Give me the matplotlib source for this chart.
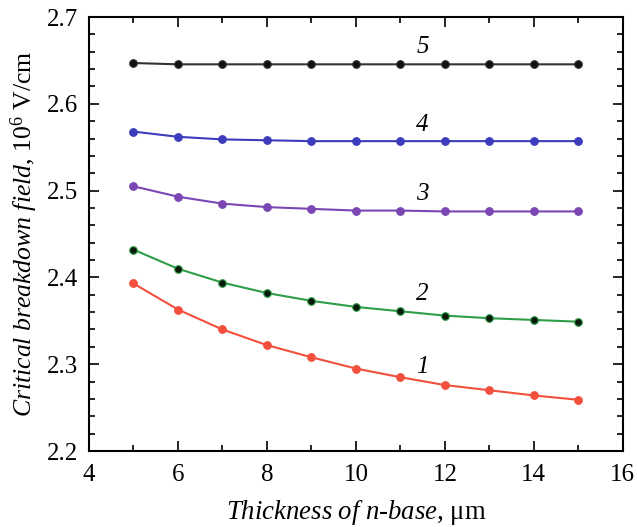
import matplotlib.pyplot as plt
from matplotlib.ticker import MultipleLocator

plt.rcParams['font.family'] = ['Liberation Serif', 'DejaVu Serif']
plt.rcParams['mathtext.fontset'] = 'custom'
plt.rcParams['mathtext.rm'] = 'Liberation Serif'
plt.rcParams['mathtext.it'] = 'Liberation Serif:italic'

thickness = [5, 6, 7, 8, 9, 10, 11, 12, 13, 14, 15]
field_1 = [2.393, 2.363, 2.340, 2.322, 2.308, 2.295, 2.285, 2.276, 2.270, 2.264, 2.259]
field_2 = [2.432, 2.410, 2.394, 2.382, 2.373, 2.366, 2.361, 2.356, 2.353, 2.351, 2.349]
field_3 = [2.505, 2.493, 2.485, 2.481, 2.479, 2.477, 2.477, 2.476, 2.476, 2.476, 2.476]
field_4 = [2.568, 2.562, 2.559, 2.558, 2.557, 2.557, 2.557, 2.557, 2.557, 2.557, 2.557]
field_5 = [2.647, 2.6455, 2.6455, 2.6455, 2.6455, 2.6455, 2.6455, 2.6455, 2.6455, 2.6455, 2.6455]
curve_labels = ["1", "2", "3", "4", "5"]
label_y = [2.297, 2.381, 2.496, 2.576, 2.665]
label_x = 11.5

series = [field_1, field_2, field_3, field_4, field_5]
line_colors = ["#f2503c", "#2e9e48", "#7a46b4", "#3c3cbc", "#333333"]
marker_colors = ["#f2503c", "#0a1a0a", "#7a46b4", "#3c3cbc", "#111111"]

fig = plt.figure(figsize=(6.37, 5.27), dpi=100)
ax = fig.add_axes([0.1397, 0.1442, 0.838, 0.8235])

for vals, lc, mc in zip(series, line_colors, marker_colors):
    ax.plot(thickness, vals, color=lc, lw=1.5, marker='o', ms=5.5,
            markerfacecolor=mc, markeredgecolor=lc, markeredgewidth=0.8)

for lab, ly in zip(curve_labels, label_y):
    ax.text(label_x, ly, lab, fontsize=18, style='italic', ha='center', va='center')

ax.set_xlim(4, 16)
ax.set_ylim(2.2, 2.7)
ax.xaxis.set_major_locator(MultipleLocator(2))
ax.xaxis.set_minor_locator(MultipleLocator(1))
ax.yaxis.set_major_locator(MultipleLocator(0.1))
ax.yaxis.set_minor_locator(MultipleLocator(0.02))
ax.tick_params(which='both', direction='in', top=True, right=True, labelsize=18, width=1.2)
ax.tick_params(which='major', length=7)
ax.tick_params(which='minor', length=4)
ax.tick_params(axis='x', which='major', pad=9)
ax.tick_params(axis='y', which='major', pad=8)
for s in ax.spines.values():
    s.set_linewidth(1.5)

ax.set_xlabel(r"$\it{Thickness\ of\ n}$-$\it{base}$, μm", fontsize=19.3, labelpad=9)
ax.set_ylabel(r"$\it{Critical\ breakdown\ field}$, 10$^6$ V/cm", fontsize=18.5, labelpad=5)

fig.savefig("out.png", dpi=100)
